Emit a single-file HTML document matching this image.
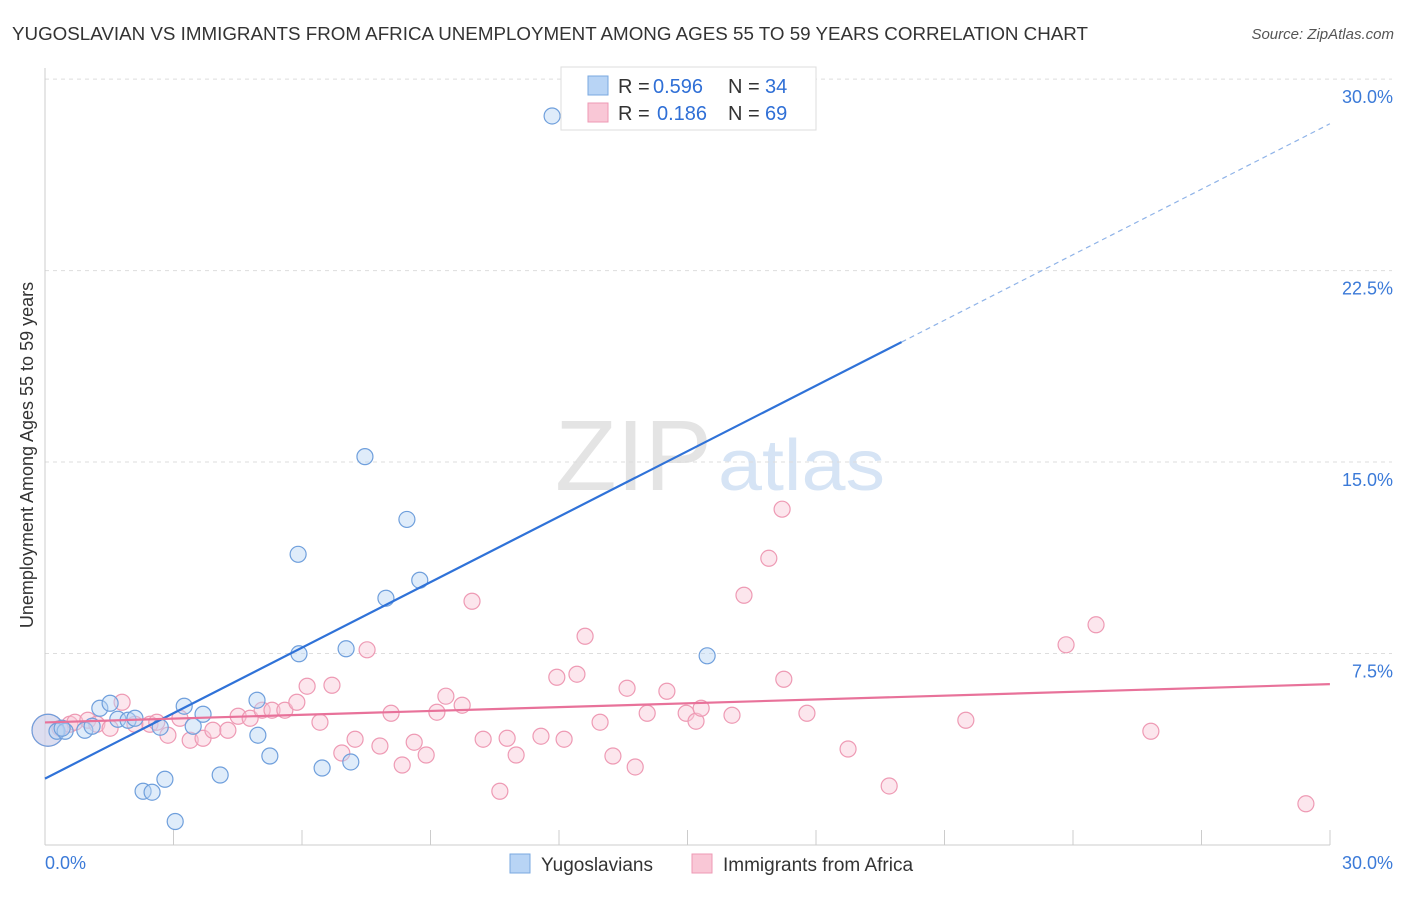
<!DOCTYPE html>
<html><head><meta charset="utf-8"><style>
body{margin:0;background:#fff;font-family:"Liberation Sans",sans-serif;}
svg text{font-family:"Liberation Sans",sans-serif;}
</style></head><body>
<svg id="chart" width="1406" height="892" xmlns="http://www.w3.org/2000/svg">
<text x="12" y="40" font-size="18" fill="#333" textLength="1076" lengthAdjust="spacingAndGlyphs">YUGOSLAVIAN VS IMMIGRANTS FROM AFRICA UNEMPLOYMENT AMONG AGES 55 TO 59 YEARS CORRELATION CHART</text>
<text x="1394" y="39" font-size="15" fill="#555" text-anchor="end" font-style="italic">Source: ZipAtlas.com</text>
<text x="555" y="490" font-size="100" fill="#e4e4e4" textLength="157" lengthAdjust="spacingAndGlyphs" font-family="Liberation Serif">ZIP</text>
<text x="718" y="490" font-size="72" fill="#d6e4f5" textLength="167" lengthAdjust="spacingAndGlyphs">atlas</text>
<g id="grid"></g><g id="axes"></g><g id="pts"></g><g id="trend"></g>
<text x="33" y="455" font-size="18" fill="#333" text-anchor="middle" transform="rotate(-90 33 455)">Unemployment Among Ages 55 to 59 years</text>
<g>
<rect x="561" y="67" width="255" height="63" fill="#fff" stroke="#ddd"/>
<rect x="588" y="76" width="20" height="19" fill="#b8d4f5" stroke="#7aa8e0"/>
<rect x="588" y="103" width="20" height="19" fill="#f9c7d6" stroke="#ee9ab4"/>
<text x="618" y="93" font-size="20" fill="#333">R =</text>
<text x="653" y="93" font-size="20" fill="#2f6fd6">0.596</text>
<text x="728" y="93" font-size="20" fill="#333">N =</text>
<text x="765" y="93" font-size="20" fill="#2f6fd6">34</text>
<text x="618" y="120" font-size="20" fill="#333">R =</text>
<text x="657" y="120" font-size="20" fill="#2f6fd6">0.186</text>
<text x="728" y="120" font-size="20" fill="#333">N =</text>
<text x="765" y="120" font-size="20" fill="#2f6fd6">69</text>
</g>
<g>
<rect x="510" y="854" width="20" height="19" fill="#b8d4f5" stroke="#7aa8e0"/>
<text x="541" y="871" font-size="19" fill="#333">Yugoslavians</text>
<rect x="692" y="854" width="20" height="19" fill="#f9c7d6" stroke="#ee9ab4"/>
<text x="723" y="871" font-size="19" fill="#333">Immigrants from Africa</text>
</g>
</svg>
<script>
const yTicks=[7.5,15,22.5,30];
const yTickLabels=["7.5%","15.0%","22.5%","30.0%"];
const xTickLabels=["0.0%","30.0%"];
const blueX=[0.07,0.28,0.47,0.93,1.1,1.28,1.52,1.7,1.94,2.1,2.29,2.5,2.69,2.8,3.04,3.25,3.46,3.69,4.09,4.95,4.97,5.25,5.91,5.93,6.47,7.03,7.14,7.47,7.96,8.45,8.75,11.84,15.46,0.4];
const blueY=[4.495,4.456,4.456,4.495,4.652,5.357,5.553,4.926,4.887,4.965,2.106,2.067,4.613,2.576,0.921,5.436,4.652,5.122,2.742,5.671,4.3,3.486,11.387,7.49,3.016,7.686,3.252,15.213,9.666,12.753,10.371,28.556,7.411,4.574];
const pinkX=[0.07,0.35,0.58,0.7,1.0,1.21,1.52,1.8,2.1,2.45,2.61,2.87,3.15,3.39,3.69,3.92,4.27,4.51,4.79,5.07,5.3,5.6,5.88,6.12,6.42,6.7,6.93,7.24,7.52,7.82,8.08,8.34,8.62,8.9,9.15,9.36,9.74,9.97,10.23,10.62,10.79,11.0,11.58,11.95,12.12,12.42,12.61,12.96,13.26,13.59,13.78,14.06,14.52,14.97,15.2,15.32,16.04,16.32,16.9,17.21,17.25,17.79,18.75,19.71,21.5,23.84,24.54,25.82,29.44];
const pinkY=[4.495,4.574,4.73,4.809,4.887,4.73,4.574,5.592,4.73,4.73,4.809,4.3,4.965,4.104,4.182,4.495,4.495,5.043,4.965,5.279,5.279,5.279,5.592,6.219,4.809,6.258,3.604,4.143,7.646,3.878,5.161,3.134,4.026,3.525,5.201,5.828,5.475,9.548,4.143,2.106,4.182,3.525,4.261,6.571,4.143,6.689,8.177,4.809,3.486,6.141,3.056,5.161,6.023,5.161,4.848,5.357,5.083,9.783,11.231,13.153,6.493,5.161,3.76,2.312,4.887,7.842,8.626,4.456,1.615];
const blueTrend=[0,2.6,20,19.7];
const pinkTrend=[0,4.8,30,6.3];
const sx=v=>45+v*42.83, sy=v=>845-v*25.53;
const NS="http://www.w3.org/2000/svg";
function mk(p,t,a){const e=document.createElementNS(NS,t);for(const k in a)e.setAttribute(k,a[k]);document.getElementById(p).appendChild(e);return e;}
yTicks.forEach((t,i)=>{
 const l=mk('grid','line',{x1:45,x2:1392,y1:sy(t),y2:sy(t),stroke:'#ddd','stroke-dasharray':'4 4'});
 
 
 const tx=mk('axes','text',{x:1393,y:sy(t)+24,'font-size':18,fill:'#3b7ad8','text-anchor':'end'});tx.textContent=yTickLabels[i];
 
 
});
let a=mk('axes','line',{x1:45,x2:45,y1:68,y2:845,stroke:'#ccc'});


a=mk('axes','line',{x1:45,x2:1330,y1:845,y2:845,stroke:'#ccc'});


for(let i=1;i<=10;i++){const t=mk('axes','line',{x1:45+i*128.5,x2:45+i*128.5,y1:830,y2:845,stroke:'#ccc'});
 
 }
[[0,45,'start'],[30,1393,'end']].forEach((d,i)=>{const t=mk('axes','text',{x:d[1],y:869,'font-size':18,fill:'#3b7ad8','text-anchor':d[2]});t.textContent=xTickLabels[i];
 
 });
function dots(X,Y,fill,stroke,name){X.forEach((x,i)=>{const c=mk('pts','circle',{cx:sx(x),cy:sy(Y[i]),r:i==0?16:8,fill:fill,'fill-opacity':0.45,stroke:stroke,'stroke-width':1.2});
 
 });}
dots(pinkX,pinkY,'#f9c7d6','#ee9ab4','africa-point');
dots(blueX,blueY,'#b8d4f5','#6f9fdc','yugoslavian-point');
const bs=(blueTrend[3]-blueTrend[1])/(blueTrend[2]-blueTrend[0]);
let t=mk('trend','line',{x1:sx(blueTrend[0]),y1:sy(blueTrend[1]),x2:sx(blueTrend[2]),y2:sy(blueTrend[3]),stroke:'#2f72d8','stroke-width':2.2});


t=mk('trend','line',{x1:sx(blueTrend[2]),y1:sy(blueTrend[3]),x2:sx(30),y2:sy(blueTrend[1]+bs*30),stroke:'#8fb3e8','stroke-width':1.2,'stroke-dasharray':'5 4'});


t=mk('trend','line',{x1:sx(pinkTrend[0]),y1:sy(pinkTrend[1]),x2:sx(pinkTrend[2]),y2:sy(pinkTrend[3]),stroke:'#e8729a','stroke-width':2.2});


</script>
</body></html>
